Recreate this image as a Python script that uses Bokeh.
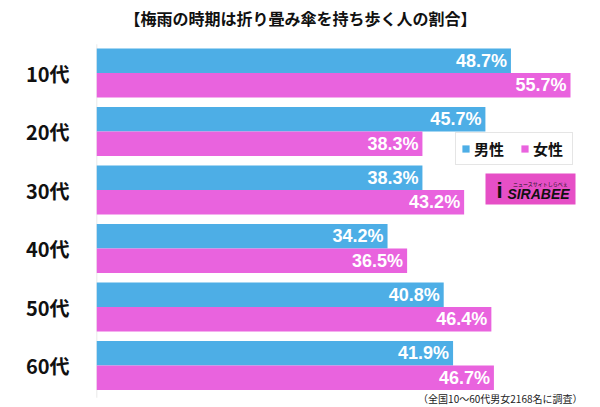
from bokeh.plotting import figure
from bokeh.models import Range1d, Label, Legend, LegendItem, ColumnDataSource, FixedTicker
from bokeh.core.properties import value
from bokeh.embed import file_html
from bokeh.resources import INLINE

categories = ["10代", "20代", "30代", "40代", "50代", "60代"]
male = [48.7, 45.7, 38.3, 34.2, 40.8, 41.9]
female = [55.7, 38.3, 43.2, 36.5, 46.4, 46.7]
series_names = ["男性", "女性"]
title_text = "【梅雨の時期は折り畳み傘を持ち歩く人の割合】"
note_text = "（全国10〜60代男女2168名に調査）"

BLUE = "#4DAEE6"
PINK = "#E963DE"
JP = "Noto Sans CJK JP"
NUM = "Liberation Sans"

PX = 8.51          # pixels per percent
UNIT = 58.5        # pixels per group

idx = list(range(len(categories)))
off = 0.21
bar_h = 0.42

src_m = ColumnDataSource(dict(y=[i - off for i in idx], v=male,
                              lab=[f"{v:.1f}%" for v in male]))
src_f = ColumnDataSource(dict(y=[i + off for i in idx], v=female,
                              lab=[f"{v:.1f}%" for v in female]))

W, H, LEFT = 600, 407, 96
top_val = -72.5 / UNIT
bot_val = (H - 72.5) / UNIT

def xd(px):
    return (px - LEFT) / PX

def yd(py):
    return (py - 72.5) / UNIT

p = figure(width=W, height=H, output_backend="svg", toolbar_location=None,
           x_range=Range1d(0, (W - LEFT) / PX), y_range=Range1d(bot_val, top_val),
           min_border_left=LEFT, min_border_right=0, min_border_top=0,
           min_border_bottom=0, outline_line_color=None)
p.xaxis.visible = False
p.xgrid.visible = False
p.ygrid.visible = False
p.background_fill_color = "white"

yax = p.yaxis[0]
yax.ticker = FixedTicker(ticks=idx)
yax.major_label_overrides = {i: c for i, c in zip(idx, categories)}
yax.axis_line_color = None
yax.major_tick_line_color = None
yax.minor_tick_line_color = None
yax.major_label_text_font = JP
yax.major_label_text_font_style = "bold"
yax.major_label_text_font_size = "20px"
yax.major_label_text_color = "#111111"
yax.major_label_standoff = 21

p.segment(x0=[0], y0=[-0.49], x1=[0], y1=[5.55], line_color="#e2e2e2", line_width=1.5)

rm = p.hbar(y="y", right="v", left=0, height=bar_h, source=src_m,
            fill_color=BLUE, line_color=None)
rf = p.hbar(y="y", right="v", left=0, height=bar_h, source=src_f,
            fill_color=PINK, line_color=None)

for src in (src_m, src_f):
    p.text(x="v", y="y", text="lab", source=src, x_offset=-4,
           text_align="right", text_baseline="middle", text_color="white",
           text_font=value(NUM), text_font_style="bold", text_font_size="18px")

legend = Legend(items=[LegendItem(label=series_names[0], renderers=[rm]),
                       LegendItem(label=series_names[1], renderers=[rf])],
                orientation="horizontal", location=(455 - LEFT, H - 165),
                glyph_width=9, glyph_height=9, label_standoff=4, spacing=12,
                padding=5, margin=0, label_height=17, label_width=34,
                label_text_font=JP, label_text_font_style="bold",
                label_text_font_size="15px", label_text_color="#111111",
                border_line_color="#cccccc", border_line_width=1,
                background_fill_alpha=1.0)
p.add_layout(legend, "center")

# SIRABEE logo (decoration)
p.quad(left=[xd(485)], right=[xd(575)], top=[yd(173)], bottom=[yd(204)],
       fill_color="#E64FC6", line_color=None)
p.add_layout(Label(x=xd(538), y=yd(193), text="SIRABEE", text_align="center",
                   text_baseline="middle", text_font=NUM,
                   text_font_style="bold italic",
                   text_font_size="14px", text_color="#111111"))
p.add_layout(Label(x=xd(540), y=yd(183), text="ニュースサイトしらべぇ", text_align="center",
                   text_baseline="middle", text_font=JP,
                   text_font_size="5px", text_color="#111111"))
p.add_layout(Label(x=xd(499), y=yd(190), text="i", text_align="center",
                   text_baseline="middle", text_font=NUM, text_font_style="bold",
                   text_font_size="22px", text_color="#111111"))

p.add_layout(Label(x=xd(300), y=yd(17), text=title_text, text_align="center",
                   text_baseline="middle", text_font=JP, text_font_style="bold",
                   text_font_size="16px", text_color="#111111"))
p.add_layout(Label(x=xd(582), y=yd(398), text=note_text, text_align="right",
                   text_baseline="middle", text_font=JP,
                   text_font_size="10px", text_color="#222222"))

open("out.html", "w").write(file_html(p, INLINE))
